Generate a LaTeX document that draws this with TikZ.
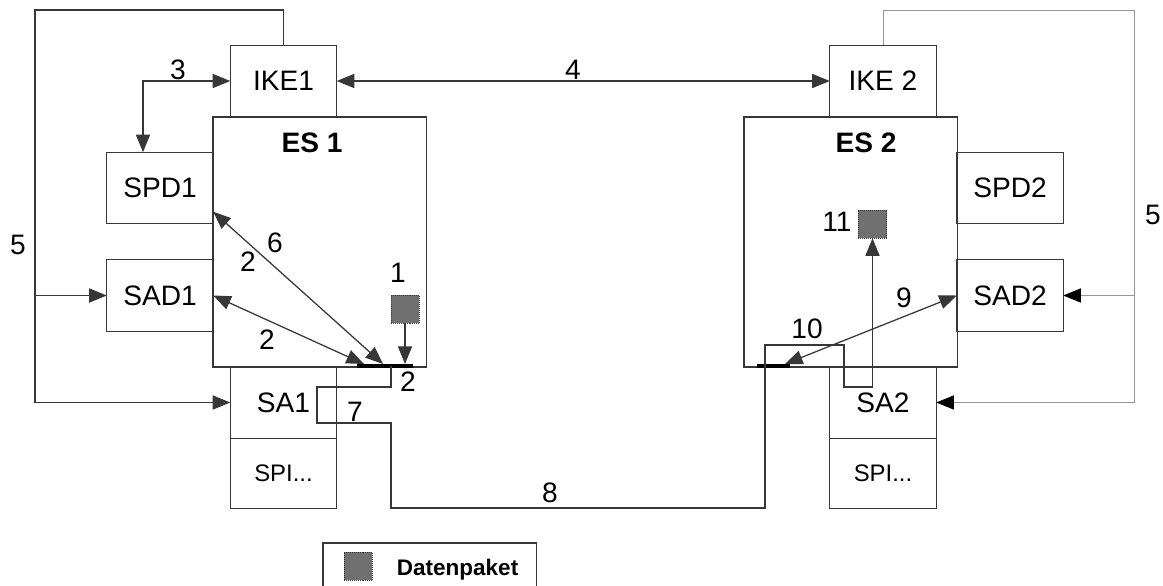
\documentclass[tikz,border=0pt]{standalone}
\usepackage{fontspec}
\setsansfont{Liberation Sans}
\usetikzlibrary{arrows.meta,positioning}
\definecolor{linegray}{RGB}{55,55,55}
\definecolor{loopgray}{RGB}{150,150,150}
\definecolor{pktfill}{RGB}{112,112,112}
\definecolor{pktstroke}{RGB}{60,60,60}

\begin{document}
\begin{tikzpicture}[
  x=0.025cm, y=-0.025cm,
  font=\sffamily\fontsize{20}{24}\selectfont,
  >={Triangle[length=12.5pt,width=10pt]},
  unit/.style={
    draw=linegray,
    line width=0.9pt,
    minimum width=2.66cm,
    minimum height=1.79cm,
    inner sep=0pt,
    outer sep=0pt
  },
  host/.style={unit, minimum width=5.33cm, minimum height=6.25cm},
  spibox/.style={unit, minimum height=1.76cm, font=\sffamily\fontsize{17}{20}\selectfont},
  packet/.style={draw=pktstroke, densely dotted, fill=pktfill, minimum size=0.71cm, inner sep=0pt, outer sep=0pt},
  title/.style={font=\sffamily\bfseries\fontsize{20}{24}\selectfont},
  flow/.style={draw=linegray, line width=0.9pt},
  graylink/.style={draw=loopgray, line width=0.6pt, >={Triangle[length=12.5pt,width=10pt,black]}},
  busbar/.style={draw=black, line width=3pt},
  num/.style={inner sep=1pt}
]
\useasboundingbox (0,0) rectangle (1163,585);
\clip (0,0) rectangle (1163,585);

\node[host] (es1) at (319.5,242) {};
\node[title] (es1lbl) at (312,143) {ES 1};
\node[unit] (ike1) at (283.5,81) {IKE1};
\node[unit] (spd1) at (160,188) {SPD1};
\node[unit] (sad1) at (160,295.5) {SAD1};
\node[unit] (sa1) at (283.5,402.5) {SA1};
\node[spibox, below=0pt of sa1] (spi1) {SPI...};

\node[host] (es2) at (850.5,242) {};
\node[title] (es2lbl) at (866,143) {ES 2};
\node[unit] (ike2) at (883,81) {IKE 2};
\node[unit] (spd2) at (1010,188) {SPD2};
\node[unit] (sad2) at (1010,295.5) {SAD2};
\node[unit] (sa2) at (883,402.5) {SA2};
\node[spibox, below=0pt of sa2] (spi2) {SPI...};

\node[packet] (pkt1) at (405,309) {};
\node[packet] (pkt11) at (872.5,224) {};

\coordinate (bar1w) at (357,366);
\coordinate (bar1e) at (413,366);
\coordinate (bar2w) at (757,366);
\coordinate (bar2e) at (790,366);
\coordinate (hit6) at (383,364);
\coordinate (hit2) at (364,364);
\coordinate (hit9) at (785,364);
\coordinate (tap1) at (391,366);
\coordinate (via3) at (143,81);
\coordinate (loopL) at (35,10);
\coordinate (loopR) at (1134,10);

\draw[busbar] (bar1w) -- (bar1e);
\draw[busbar] (bar2w) -- (bar2e);

\draw[flow, <->] (via3 |- spd1.north) |- (ike1.west);
\draw[flow, <->] (ike1.east) -- (ike2.west);
\draw[flow, ->] (ike1.north) |- (loopL) |- (sa1.west);
\draw[flow, ->] (loopL |- sad1.west) -- (sad1.west);
\draw[graylink, ->] (ike2.north) |- (loopR) |- (sa2.east);
\draw[graylink, ->] (loopR |- sad2.east) -- (sad2.east);
\draw[flow, <->] (spd1.-24) -- (hit6);
\draw[flow, <->] (sad1.east) -- (hit2);
\draw[flow, ->] (pkt1.south) -- (pkt1.south |- hit6);
\draw[flow, <->] (sad2.west) -- (hit9);
\draw[flow, ->] (tap1) -- (391,387) -- (317,387) -- (317,423) -- (391,423)
  -- (391,508) -- (765,508) -- (765,345) -- (844,345) -- (844,387) -| (pkt11.south);

\node[num] (n3) at (178,70) {3};
\node[num] (n4) at (573,70) {4};
\node[num] (n5l) at (18,245) {5};
\node[num] (n5r) at (1153,215) {5};
\node[num] (n6) at (275,243) {6};
\node[num] (n2a) at (248,262) {2};
\node[num] (n2b) at (267,340) {2};
\node[num] (n1) at (398,273) {1};
\node[num] (n2c) at (408,382) {2};
\node[num] (n7) at (355,412) {7};
\node[num] (n8) at (550,493) {8};
\node[num] (n10) at (807,329) {10};
\node[num] (n9) at (904,298) {9};
\node[num] (n11) at (837,222) {11};

\node[unit, minimum width=5.33cm, minimum height=1.3cm] (legend) at (429.5,569) {};
\node[packet] (legpkt) at (358,566) {};
\node[anchor=base west, font=\sffamily\bfseries\fontsize{16}{19}\selectfont] (legtxt) at (392,575) {Datenpaket};

\end{tikzpicture}
\end{document}
